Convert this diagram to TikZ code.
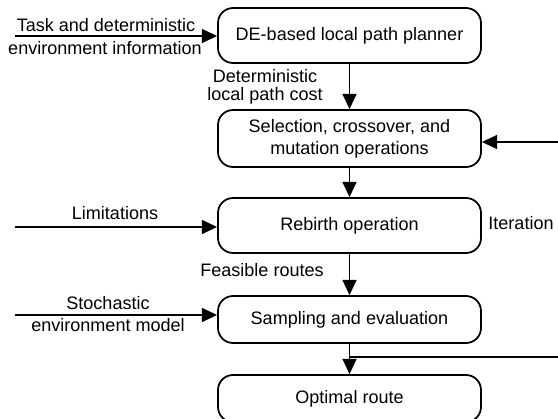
\documentclass[tikz,border=0pt]{standalone}
\usepackage{fontspec}
\setmainfont{Liberation Sans}
\usetikzlibrary{arrows.meta}

\tikzset{
	block/.style={draw, line width=1.5pt, rounded corners=0.45cm, minimum width=7.89cm, align=center},
	flow/.style={line width=1.5pt, -{Triangle[length=0.46cm, width=0.42cm]}},
	wire/.style={line width=1.5pt},
}

\begin{document}
\begin{tikzpicture}[x=0.03cm, y=-0.03cm, font=\fontsize{15.4}{18.5}\selectfont]
		\useasboundingbox (0,0) rectangle (558,419);
		\clip (0,0) rectangle (558,419);
		% main blocks
		\node[block, minimum height=1.65cm] (plan) at (349.5,35.5) {DE-based local path planner};
		\node[block, minimum height=1.71cm] (select) at (349.5,138.5) {Selection, crossover, and\\mutation operations};
		\node[block, minimum height=1.65cm] (rebirth) at (349.5,225.5) {Rebirth operation};
		\node[block, minimum height=1.41cm] (sample) at (349.5,319.5) {Sampling and evaluation};
		\node[block, minimum height=1.41cm] (optimal) at (349.5,398.5) {Optimal route};
		\draw [flow] (plan)--(select);
		\draw [flow] (select)--(rebirth);
		\draw [flow] (rebirth)--(sample);
		\draw [flow] (sample)--(optimal);
		\node[align=center] (costlbl) at (265,87) {Deterministic\\[-3pt]local path cost};
		\node (feaslbl) at (262,270) {Feasible routes};
		% inputs on the left
		\coordinate (taskin) at (15,36);
		\coordinate (limin) at (15,227);
		\coordinate (stochin) at (15,315);
		\draw [flow] (taskin)--(taskin -| plan.west);
		\draw [flow] (limin)--(limin -| rebirth.west);
		\draw [flow] (stochin)--(stochin -| sample.west);
		\node (tasklbl) at (106,25) {Task and deterministic};
		\node (envlbl) at (105,48) {environment information};
		\node (limlbl) at (115,213) {Limitations};
		\node (stochlbl) at (108,303) {Stochastic};
		\node (modellbl) at (108,325) {environment model};
		% iteration loop
		\coordinate (loopin) at (558,142);
		\coordinate (loopout) at (558,357);
		\draw [flow] (loopin)--(loopin -| select.east);
		\draw [wire] (sample.south |- loopout)--(loopout);
		\node (iterlbl) at (521,223) {Iteration};
	\end{tikzpicture}
\end{document}
